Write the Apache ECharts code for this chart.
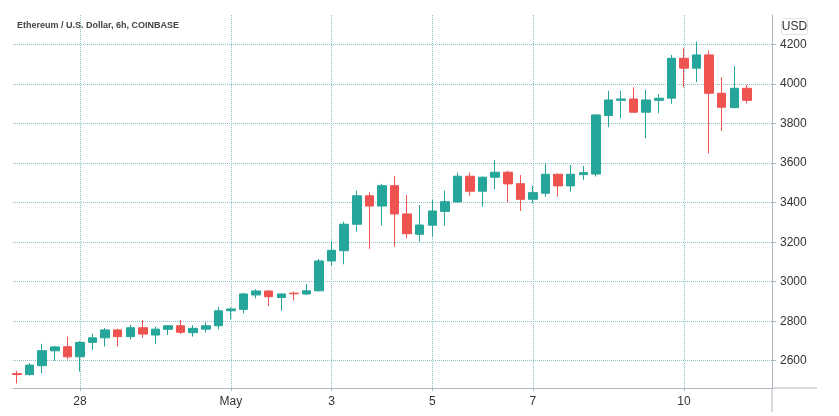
<!DOCTYPE html>
<html>
<head>
<meta charset="utf-8">
<script src="https://cdn.jsdelivr.net/npm/echarts@6/dist/echarts.min.js"></script>
<style>
  html, body { margin: 0; padding: 0; background: #fff; }
  #chart { width: 839px; height: 416px; }
</style>
</head>
<body>
<div id="chart"></div>
<script>
// ETH/USD 6h candles, Apr 26 18:00 -> May 11 06:00
var opens = [2535, 2530, 2575, 2650, 2671, 2620, 2693, 2716, 2756, 2722,
  2767, 2730, 2759, 2777, 2742, 2760, 2777, 2853, 2860, 2933,
  2953, 2920, 2942, 2938, 2954, 3105, 3157, 3291, 3435, 3383,
  3486, 3343, 3240, 3286, 3356, 3404, 3534, 3458, 3529, 3554,
  3496, 3417, 3448, 3544, 3485, 3542, 3545, 3841, 3918, 3925,
  3858, 3918, 3929, 4131, 4081, 4148, 3954, 3881, 3979];
var closes = [2530, 2578, 2651, 2670, 2620, 2693, 2716, 2756, 2722, 2767,
  2735, 2760, 2777, 2744, 2764, 2777, 2853, 2862, 2938, 2953,
  2924, 2938, 2939, 2954, 3105, 3159, 3291, 3435, 3383, 3486,
  3343, 3243, 3287, 3358, 3405, 3534, 3458, 3529, 3554, 3495,
  3417, 3451, 3544, 3485, 3544, 3552, 3844, 3920, 3925, 3858,
  3920, 3929, 4131, 4081, 4148, 3954, 3883, 3979, 3918];
var lows = [2485, 2525, 2536, 2600, 2607, 2545, 2655, 2672, 2672, 2708,
  2716, 2684, 2730, 2735, 2722, 2742, 2759, 2810, 2840, 2916,
  2876, 2853, 2905, 2933, 2950, 3080, 3088, 3253, 3166, 3284,
  3177, 3220, 3203, 3228, 3284, 3400, 3435, 3380, 3468, 3402,
  3358, 3397, 3430, 3430, 3456, 3515, 3532, 3782, 3827, 3855,
  3726, 3853, 3900, 3984, 4010, 3650, 3763, 3878, 3903];
var highs = [2550, 2588, 2685, 2675, 2722, 2700, 2738, 2765, 2762, 2782,
  2806, 2772, 2780, 2806, 2780, 2794, 2873, 2870, 2945, 2962,
  2956, 2940, 2950, 2988, 3115, 3208, 3304, 3461, 3453, 3495,
  3535, 3439, 3388, 3414, 3461, 3552, 3552, 3532, 3616, 3562,
  3540, 3485, 3600, 3548, 3591, 3586, 3848, 3966, 3966, 3984,
  3971, 3949, 4148, 4182, 4215, 4170, 4035, 4092, 3996];

// day labels on the time axis (candle index -> text)
var tickIdx = [5, 17, 25, 33, 41, 53];
var tickText = ['28', 'May', '3', '5', '7', '10'];
var priceTicks = [2600, 2800, 3000, 3200, 3400, 3600, 3800, 4000, 4200];

var candles = opens.map(function (o, i) {
  return [i, o, closes[i], lows[i], highs[i]];
});

var gridColor = '#8fc3c9';
var axisColor = '#b2b5be';
var upColor = '#26a69a';
var downColor = '#ef5350';

var chart = echarts.init(document.getElementById('chart'));
chart.setOption({
  animation: false,
  title: {
    text: 'Ethereum / U.S. Dollar, 6h, COINBASE',
    left: 13,
    top: 21,
    padding: [0, 4],
    textStyle: {
      fontFamily: 'Liberation Sans',
      fontSize: 9,
      fontWeight: 'bold',
      color: '#444'
    }
  },
  grid: { left: 13, right: 67, top: 15, bottom: 28 },
  xAxis: {
    type: 'value',
    min: -0.32,
    max: 60,
    axisLine: { show: true, onZero: false, lineStyle: { color: axisColor } },
    axisTick: { show: true, length: 3, customValues: tickIdx, lineStyle: { color: axisColor } },
    axisLabel: {
      customValues: tickIdx,
      margin: 8,
      fontSize: 12,
      fontFamily: 'Liberation Sans',
      color: '#333',
      formatter: function (v) {
        var k = tickIdx.indexOf(Math.round(v));
        return k >= 0 ? tickText[k] : '';
      }
    },
    splitLine: { show: true, lineStyle: { color: gridColor, type: 'dotted', width: 1 } }
  },
  yAxis: {
    type: 'value',
    position: 'right',
    min: 2462,
    max: 4350,
    axisLine: { show: true, onZero: false, lineStyle: { color: axisColor } },
    axisTick: { show: true, length: 4, customValues: priceTicks, lineStyle: { color: axisColor } },
    axisLabel: {
      customValues: priceTicks,
      margin: 8,
      fontSize: 12,
      fontFamily: 'Liberation Sans',
      color: '#333',
      formatter: function (v) { return String(v); }
    },
    splitLine: { show: true, lineStyle: { color: gridColor, type: 'dotted', width: 1 } }
  },
  graphic: [
    { type: 'line', shape: { x1: 772, y1: 388, x2: 817, y2: 388 }, style: { stroke: axisColor, lineWidth: 1 } },
    { type: 'line', shape: { x1: 772, y1: 388, x2: 772, y2: 412 }, style: { stroke: axisColor, lineWidth: 1 } },
    {
      type: 'group', left: 781, top: 18,
      children: [
        { type: 'rect', shape: { x: 0, y: 0, width: 26, height: 16, r: 2 }, style: { fill: '#fff', stroke: '#e0e3eb' } },
        { type: 'text', x: 13, y: 8, style: { text: 'USD', fontSize: 12, fontFamily: 'Liberation Sans', fill: '#333', align: 'center', verticalAlign: 'middle' } }
      ]
    }
  ],
  series: [{
    type: 'candlestick',
    data: candles,
    encode: { x: 0, y: [1, 2, 3, 4] },
    barWidth: 9,
    itemStyle: {
      color: upColor,
      color0: downColor,
      borderColor: upColor,
      borderColor0: downColor,
      borderWidth: 1
    }
  }]
});
</script>
</body>
</html>
